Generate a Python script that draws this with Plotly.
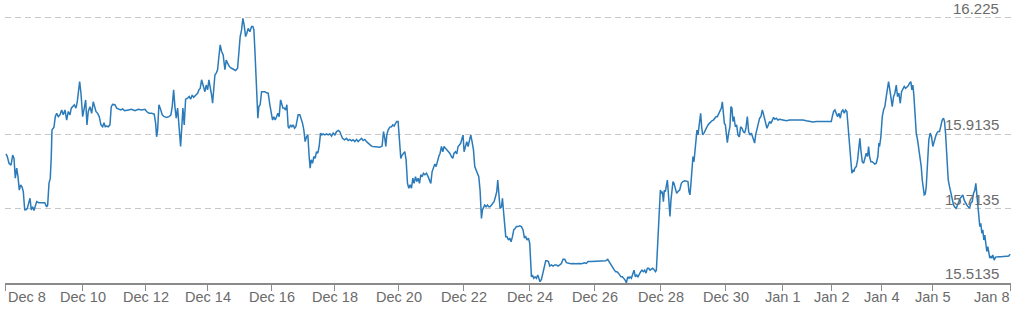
import plotly.graph_objects as go

# sample position along the (index-based) time axis and exchange rate
t_idx = [6, 7.3, 9, 11, 12.7, 14, 15.3, 16.7, 18, 19.3, 20.7, 22, 23.3, 24.7, 26, 27.3, 28.7, 30, 31.3, 32.7, 34, 35.3, 36.7, 38.7, 40.7, 42.7, 44.7, 46.7, 47.7, 49, 50.3, 51.3, 52, 54, 55.3, 56.7, 58.3, 60, 61.7, 63.3, 65, 66.7, 68.3, 70, 71.3, 72.7, 74.3, 76, 77.3, 78.7, 79.7, 81, 82.7, 84.3, 85.7, 87, 88.3, 90, 91.7, 93.3, 94.7, 96, 97.7, 99.3, 101, 102.7, 104, 105.3, 106.7, 108.3, 110, 111.3, 112.7, 115, 116.7, 118.7, 120.7, 122.7, 124.7, 128.3, 131.7, 135, 138.3, 141.7, 145, 146.7, 149, 151.7, 154.3, 155.7, 156.7, 157.7, 159, 160.3, 162.3, 164.3, 166.7, 169, 171, 172.3, 173.7, 175, 176.3, 177.7, 179, 180.7, 181.7, 183, 184.3, 185.7, 187.7, 189.3, 190.7, 192.3, 193.7, 195.7, 197.7, 199, 200.3, 201.7, 203.3, 205, 206.3, 207.7, 209, 210.3, 211.7, 212.7, 214, 215, 216.3, 217.7, 219, 220.3, 221.7, 223.3, 225, 226.3, 227.7, 229.7, 231.7, 233.7, 235.7, 237.7, 239, 240.3, 241.7, 243, 244.3, 245.7, 247, 248.3, 250, 251.7, 253, 254, 255, 256, 257, 258, 259, 260.3, 261.7, 263.3, 265, 266.7, 268.3, 270, 271.3, 272.7, 274, 275.3, 276.7, 278, 279.3, 280.7, 281.7, 283, 284.3, 285.7, 287, 288.3, 289.3, 290.7, 292, 293.3, 294.7, 296, 297.3, 298.3, 300, 301.3, 302.7, 304, 305.3, 306.7, 308, 309.3, 310.3, 311.3, 312.7, 314, 315.3, 316.7, 318, 319.3, 320.7, 322, 323.3, 325, 326.7, 328.3, 330, 331.7, 333.3, 335, 336.7, 338.7, 340, 341.3, 342.7, 344.7, 346.7, 348.3, 350, 351.7, 353.3, 355, 356.7, 358.3, 360, 361.7, 363.3, 365, 366.7, 368.3, 370, 371.7, 373.3, 376.7, 380, 382.3, 383.7, 385, 386, 387, 388.3, 390, 391.7, 393, 394.3, 395.7, 397, 398.3, 399.7, 401, 402.3, 403.7, 405, 406.3, 407.7, 409, 410.3, 411.7, 413, 414.3, 415.7, 417, 418.3, 419.7, 421, 422.3, 423.7, 425, 426.7, 428.3, 429.7, 431, 432.3, 433.7, 435, 436.3, 437.7, 439, 440.3, 441.7, 443, 444.3, 445.7, 447, 448.3, 450, 451.7, 453, 454.3, 455.7, 457, 458.3, 459.7, 461, 462.3, 463.3, 464.3, 465.7, 467, 468.3, 469.7, 471, 472.3, 473.7, 475, 476.3, 477.7, 479, 480.3, 481, 481.7, 482.7, 483.7, 485, 486.3, 487.7, 489, 490.3, 491.7, 493, 494.3, 495.7, 497, 498, 499, 500.3, 501.7, 502.7, 503.7, 504.7, 506, 507.3, 508.7, 510, 511.3, 512.7, 514, 515.3, 516.7, 518.3, 520, 521.7, 523.3, 524.7, 526, 527.3, 528.7, 530, 530.7, 531.7, 532.7, 534, 535.3, 536.7, 538, 539.3, 540.3, 541.7, 543.3, 544.7, 546, 547.3, 548.7, 550, 551.7, 553.3, 555, 556.7, 558.3, 560, 561.7, 563.3, 565, 566.7, 568.3, 570, 571.7, 573.3, 575, 576.7, 578.3, 580, 581.7, 583.3, 585, 586.7, 588.3, 591.7, 596.7, 603.3, 606, 608, 609.3, 610.7, 612, 613.3, 614.7, 616, 617.3, 618.7, 620, 621.3, 622.7, 624, 625.3, 626.7, 628, 629.3, 630.3, 631.7, 633, 634.3, 635.7, 637, 638.3, 639.7, 641, 642.3, 643.7, 645, 646.3, 647.7, 649, 650.3, 651.7, 653, 654.3, 655.7, 656.7, 657.7, 658.7, 659.7, 660.7, 661.7, 662.7, 663.7, 664.7, 665.7, 666.7, 667.7, 668.7, 669.7, 670.3, 671.3, 672.3, 673.3, 674.3, 675.7, 677, 678.3, 680, 681.7, 683.3, 685, 686.7, 688.3, 689.3, 690.3, 691.3, 692.3, 693.3, 694.3, 695.3, 696.3, 697.3, 698.3, 699.7, 701, 702, 703, 704.3, 705.7, 707, 708.3, 709.7, 711, 712.3, 713.7, 715, 716.3, 717.7, 719, 720.3, 721.7, 722.7, 723.7, 724.7, 725.7, 726.7, 727.7, 729, 730.3, 731.3, 732.3, 733.3, 734.3, 735.7, 737, 738.3, 739.7, 741, 742.3, 743.7, 745, 746.3, 747.7, 749, 750.3, 751.7, 753, 755, 756, 757.3, 758.7, 760, 761.3, 762.7, 763.7, 764.7, 766, 767.3, 768.7, 770, 771.3, 772.7, 774, 775.3, 776.7, 778.3, 780, 783.3, 786.7, 790, 793.3, 796.7, 800, 803.3, 806.7, 810, 813.3, 816.7, 823.3, 831.7, 832.7, 834, 835.3, 836.7, 838, 839.3, 840.7, 842, 843.3, 844.7, 846, 847.3, 848.7, 850, 851.3, 852.3, 853.3, 854.3, 855.3, 856.7, 858, 859.3, 860.3, 861.3, 862.7, 864, 865.3, 866.7, 868, 869, 870, 871.3, 872.7, 874, 875.3, 876.7, 878.3, 879.3, 880, 881.3, 882.7, 884, 885.3, 886.7, 888, 889, 890.3, 891.7, 892.7, 894, 895.3, 896.7, 898, 899.3, 900.7, 902, 903.3, 904.7, 906, 907.3, 908.7, 910, 911.3, 912.3, 913.3, 914.3, 915.3, 916.7, 918, 919.3, 920.7, 921.7, 922.7, 923.7, 924.7, 925.7, 926.7, 928, 929.3, 930.7, 932, 933.3, 934.7, 936, 937.3, 938.7, 940, 941.3, 942.7, 944, 945, 946, 947.3, 948.7, 950, 951.3, 952.7, 954, 955.3, 956.7, 958, 959.3, 960.7, 962, 963.3, 964.7, 966, 967.3, 968.7, 970, 971.3, 972.7, 974, 975.3, 976.3, 977.3, 978.3, 979.3, 980.3, 981.3, 982.3, 983.3, 984.3, 985.3, 986.3, 987.3, 988.3, 989.3, 990.3, 991.3, 992.3, 993.3, 994.7, 996, 997.3, 999.3, 1001.3, 1003.3, 1005.3, 1007.3, 1009.3, 1010.7]

rate = [15.860, 15.853, 15.835, 15.830, 15.857, 15.848, 15.795, 15.822, 15.799, 15.763, 15.777, 15.772, 15.759, 15.710, 15.710, 15.714, 15.728, 15.741, 15.710, 15.718, 15.708, 15.723, 15.732, 15.729, 15.729, 15.728, 15.729, 15.718, 15.723, 15.781, 15.795, 15.853, 15.924, 15.932, 15.960, 15.969, 15.960, 15.965, 15.978, 15.965, 15.978, 15.951, 15.974, 15.965, 15.983, 15.987, 15.992, 15.983, 16.000, 16.032, 16.054, 16.023, 15.960, 15.983, 16.005, 15.938, 15.974, 15.987, 15.969, 16.000, 15.987, 15.974, 15.969, 15.960, 15.938, 15.933, 15.944, 15.933, 15.935, 15.933, 15.938, 15.987, 15.993, 15.992, 15.983, 15.980, 15.978, 15.981, 15.976, 15.978, 15.980, 15.976, 15.980, 15.978, 15.980, 15.974, 15.969, 15.969, 15.967, 15.942, 15.906, 15.924, 15.992, 15.983, 15.965, 15.960, 15.958, 15.960, 15.965, 15.987, 16.032, 15.987, 15.956, 15.983, 15.938, 15.880, 15.924, 15.983, 15.938, 16.007, 16.010, 16.014, 16.007, 16.018, 16.012, 16.018, 16.023, 16.032, 16.036, 16.059, 16.041, 16.027, 16.045, 16.032, 16.059, 16.041, 16.018, 15.996, 16.041, 16.072, 16.077, 16.086, 16.121, 16.153, 16.135, 16.126, 16.086, 16.112, 16.104, 16.094, 16.090, 16.087, 16.084, 16.090, 16.139, 16.175, 16.193, 16.224, 16.206, 16.175, 16.184, 16.197, 16.188, 16.202, 16.202, 16.193, 16.139, 16.067, 15.996, 15.956, 15.987, 15.992, 16.027, 16.027, 16.027, 16.024, 16.023, 15.992, 15.969, 15.951, 15.960, 15.951, 15.960, 15.969, 15.960, 16.005, 15.996, 15.983, 15.983, 15.978, 15.992, 15.933, 15.929, 15.938, 15.933, 15.938, 15.929, 15.933, 15.951, 15.965, 15.965, 15.956, 15.942, 15.924, 15.893, 15.906, 15.911, 15.853, 15.822, 15.844, 15.835, 15.853, 15.848, 15.866, 15.862, 15.880, 15.916, 15.911, 15.914, 15.911, 15.914, 15.911, 15.914, 15.908, 15.916, 15.911, 15.920, 15.923, 15.920, 15.911, 15.902, 15.898, 15.902, 15.896, 15.899, 15.895, 15.898, 15.893, 15.899, 15.893, 15.898, 15.902, 15.896, 15.899, 15.893, 15.889, 15.884, 15.881, 15.880, 15.878, 15.878, 15.881, 15.920, 15.902, 15.880, 15.911, 15.924, 15.932, 15.933, 15.938, 15.935, 15.942, 15.947, 15.947, 15.906, 15.848, 15.857, 15.862, 15.866, 15.844, 15.781, 15.768, 15.777, 15.768, 15.795, 15.781, 15.799, 15.786, 15.795, 15.781, 15.804, 15.799, 15.808, 15.804, 15.808, 15.799, 15.790, 15.781, 15.812, 15.822, 15.833, 15.826, 15.844, 15.853, 15.862, 15.880, 15.866, 15.880, 15.875, 15.871, 15.866, 15.862, 15.853, 15.848, 15.862, 15.866, 15.860, 15.880, 15.884, 15.889, 15.902, 15.911, 15.866, 15.884, 15.893, 15.880, 15.898, 15.911, 15.893, 15.871, 15.826, 15.817, 15.808, 15.799, 15.763, 15.710, 15.687, 15.710, 15.718, 15.723, 15.718, 15.723, 15.718, 15.718, 15.723, 15.728, 15.732, 15.745, 15.759, 15.790, 15.754, 15.714, 15.718, 15.741, 15.708, 15.665, 15.638, 15.638, 15.629, 15.634, 15.624, 15.638, 15.656, 15.660, 15.665, 15.665, 15.667, 15.665, 15.656, 15.634, 15.638, 15.629, 15.634, 15.620, 15.566, 15.530, 15.535, 15.526, 15.530, 15.526, 15.535, 15.526, 15.517, 15.523, 15.540, 15.553, 15.573, 15.573, 15.571, 15.559, 15.562, 15.559, 15.562, 15.562, 15.559, 15.562, 15.566, 15.577, 15.577, 15.568, 15.568, 15.566, 15.565, 15.566, 15.565, 15.566, 15.565, 15.566, 15.565, 15.566, 15.568, 15.566, 15.571, 15.571, 15.571, 15.571, 15.573, 15.577, 15.571, 15.565, 15.557, 15.553, 15.548, 15.544, 15.544, 15.540, 15.535, 15.530, 15.530, 15.526, 15.522, 15.514, 15.530, 15.526, 15.530, 15.526, 15.535, 15.548, 15.530, 15.535, 15.530, 15.540, 15.544, 15.548, 15.544, 15.548, 15.540, 15.553, 15.553, 15.548, 15.550, 15.553, 15.550, 15.544, 15.548, 15.602, 15.656, 15.710, 15.763, 15.754, 15.759, 15.732, 15.763, 15.759, 15.772, 15.790, 15.754, 15.718, 15.692, 15.736, 15.772, 15.786, 15.781, 15.763, 15.754, 15.759, 15.763, 15.781, 15.786, 15.788, 15.788, 15.786, 15.759, 15.750, 15.781, 15.826, 15.853, 15.839, 15.862, 15.898, 15.924, 15.911, 15.942, 15.969, 15.933, 15.911, 15.916, 15.924, 15.933, 15.938, 15.942, 15.947, 15.949, 15.951, 15.956, 15.960, 15.960, 15.969, 15.978, 15.983, 16.000, 15.974, 15.942, 15.938, 15.916, 15.890, 15.916, 15.933, 15.987, 15.983, 15.947, 15.960, 15.933, 15.938, 15.911, 15.906, 15.933, 15.929, 15.920, 15.916, 15.929, 15.960, 15.920, 15.911, 15.916, 15.906, 15.889, 15.911, 15.929, 15.942, 15.956, 15.960, 15.978, 15.969, 15.956, 15.942, 15.929, 15.938, 15.947, 15.942, 15.951, 15.958, 15.953, 15.956, 15.951, 15.953, 15.951, 15.949, 15.951, 15.951, 15.953, 15.953, 15.951, 15.949, 15.947, 15.946, 15.947, 15.947, 15.947, 15.960, 15.974, 15.978, 15.969, 15.960, 15.969, 15.956, 15.974, 15.978, 15.969, 15.978, 15.974, 15.933, 15.880, 15.835, 15.808, 15.817, 15.812, 15.822, 15.826, 15.844, 15.880, 15.902, 15.871, 15.839, 15.835, 15.853, 15.862, 15.853, 15.880, 15.853, 15.839, 15.839, 15.835, 15.833, 15.835, 15.853, 15.889, 15.880, 15.906, 15.960, 15.978, 15.987, 16.014, 16.045, 16.054, 16.032, 16.005, 15.987, 16.014, 16.023, 16.045, 16.014, 16.023, 15.996, 16.027, 16.036, 16.041, 16.036, 16.039, 16.043, 16.050, 16.054, 16.032, 16.045, 16.018, 15.969, 15.916, 15.898, 15.875, 15.848, 15.826, 15.790, 15.759, 15.750, 15.752, 15.772, 15.835, 15.898, 15.916, 15.906, 15.880, 15.898, 15.906, 15.916, 15.920, 15.920, 15.938, 15.951, 15.956, 15.947, 15.916, 15.862, 15.790, 15.772, 15.754, 15.741, 15.723, 15.717, 15.714, 15.723, 15.732, 15.741, 15.745, 15.750, 15.736, 15.728, 15.723, 15.718, 15.714, 15.728, 15.732, 15.754, 15.763, 15.781, 15.754, 15.718, 15.692, 15.665, 15.674, 15.647, 15.656, 15.629, 15.642, 15.611, 15.598, 15.611, 15.589, 15.580, 15.586, 15.580, 15.589, 15.575, 15.583, 15.584, 15.584, 15.584, 15.584, 15.586, 15.584, 15.586, 15.591]

x_tick_pos = [5.7, 83, 146, 208, 272, 335, 399, 464, 530, 595, 661, 726, 783, 832, 882, 933, 1011]
x_tick_text = ["Dec 8", "Dec 10", "Dec 12", "Dec 14", "Dec 16", "Dec 18", "Dec 20", "Dec 22",
               "Dec 24", "Dec 26", "Dec 28", "Dec 30", "Jan 1", "Jan 2", "Jan 4", "Jan 5", "Jan 8"]
y_tick_vals = [15.5135, 15.7135, 15.9135, 16.225]
y_tick_text = ["15.5135", "15.7135", "15.9135", "16.225"]

FONT = "Liberation Sans, Arial, sans-serif"
TEXT_COLOR = "#6b6b6b"

fig = go.Figure()
fig.add_trace(go.Scatter(
    x=t_idx, y=rate, mode="lines",
    line=dict(color="#2b7bba", width=1.5),
    cliponaxis=False, hoverinfo="skip", showlegend=False,
))

annotations = []
n = len(x_tick_pos)
for i, (p, txt) in enumerate(zip(x_tick_pos, x_tick_text)):
    anchor = "left" if i == 0 else ("right" if i == n - 1 else "center")
    annotations.append(dict(
        x=p, xref="x", y=0, yref="paper", yanchor="top", xanchor=anchor,
        yshift=-4, text=txt, showarrow=False,
        font=dict(family=FONT, size=14.5, color=TEXT_COLOR),
    ))
for v, txt in zip(y_tick_vals, y_tick_text):
    annotations.append(dict(
        x=1, xref="paper", y=v, yref="y", xanchor="right", yanchor="bottom",
        xshift=-10, yshift=-1, text=txt, showarrow=False,
        font=dict(family=FONT, size=15, color=TEXT_COLOR),
    ))

fig.update_layout(
    width=1024, height=311,
    margin=dict(l=5, r=12.5, t=15, b=28),
    paper_bgcolor="white", plot_bgcolor="white",
    annotations=annotations,
    xaxis=dict(
        range=[5, 1011.5], showgrid=False, zeroline=False,
        showline=True, linecolor="#8a8a8a", linewidth=1.5,
        tickmode="array", tickvals=x_tick_pos, ticktext=x_tick_text,
        showticklabels=False, ticks="outside", ticklen=6, tickwidth=1.2,
        tickcolor="#8a8a8a",
    ),
    yaxis=dict(
        range=[15.5135, 16.233], showgrid=True, gridcolor="#c8c8c8",
        gridwidth=1, griddash="6px,4px", zeroline=False,
        tickmode="array", tickvals=y_tick_vals, showticklabels=False,
        ticks="",
    ),
)

fig.write_html("out.html")
